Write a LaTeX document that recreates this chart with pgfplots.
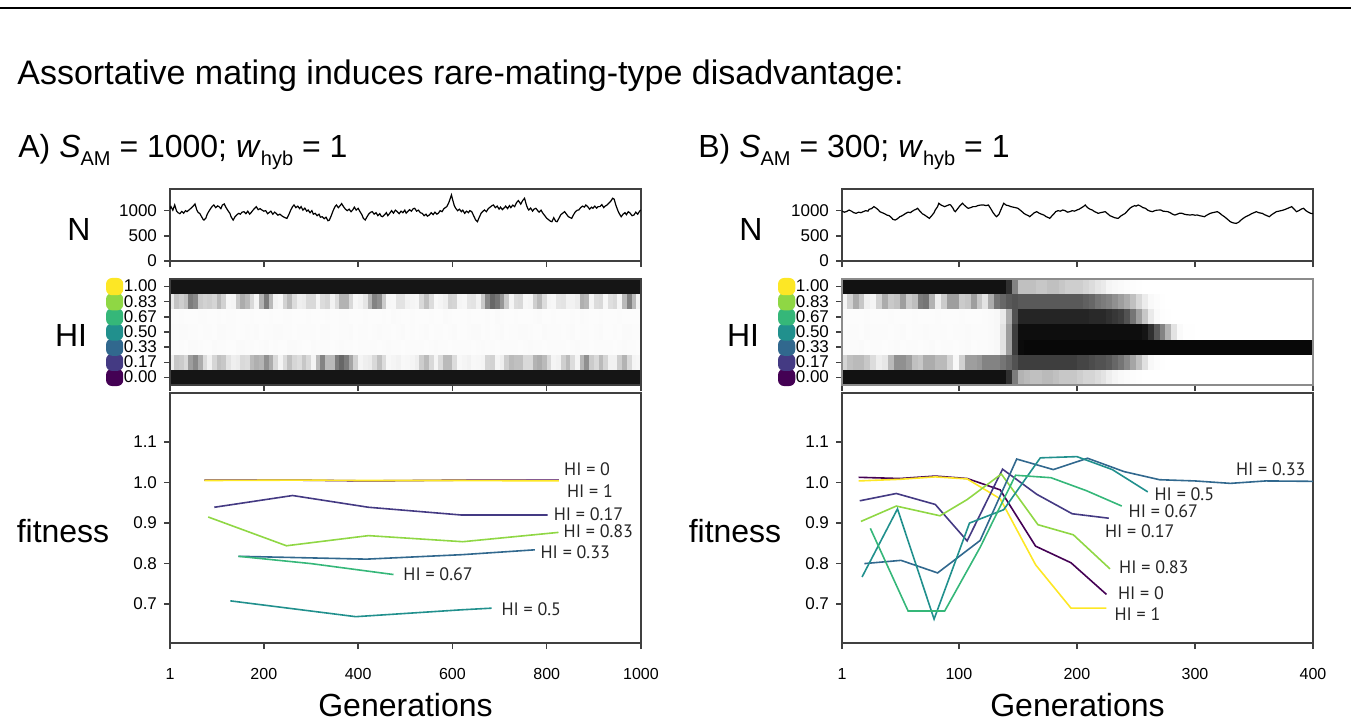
\documentclass[border=0pt]{standalone}
\usepackage{pgfplots}
\pgfplotsset{compat=1.18}
\usepackage{pgfplotstable}
\usepackage{fontspec}
\setmainfont{Liberation Sans}
\newfontfamily\lab{PT Sans}

\definecolor{v0}{HTML}{440154}
\definecolor{v1}{HTML}{443A83}
\definecolor{v2}{HTML}{31688E}
\definecolor{v3}{HTML}{21908D}
\definecolor{v4}{HTML}{35B779}
\definecolor{v5}{HTML}{8FD744}
\definecolor{v6}{HTML}{FDE725}

\newcommand\sw[2]{\tikz[baseline=-0.6ex]\fill[#1,rounded corners=3pt](0,-4.3pt) rectangle (8.6pt,4.3pt);\hspace{0.3pt}#2}
\newcommand\sub[1]{\raisebox{-4pt}{\fontsize{10}{12}\selectfont #1}}

% population size, panel A
\pgfplotstableread{
g N
1 1040
3 1080
7 1010
11 1113
15 990
18 960
22 940
26 985
30 950
34 1000
37 980
42 1020
47 1060
51 1100
54 1133
58 1010
61 960
64 947
68 880
71 830
73 813
77 850
80 930
83 980
87 1040
91 1090
94 1113
98 1060
102 1095
105 1080
109 1040
112 1110
116 1133
120 1060
124 1000
128 947
131 870
135 813
139 880
143 920
147 947
150 930
154 970
158 980
162 940
166 990
170 930
173 960
177 1010
181 1050
184 1080
188 1020
192 1040
196 1013
200 990
204 1000
208 940
211 960
215 990
219 930
223 970
226 947
230 910
234 930
238 900
241 880
245 860
249 847
253 920
257 1010
261 1080
264 1113
268 1060
272 1090
276 1040
279 1080
283 1010
287 1050
291 990
294 1013
298 960
302 1000
305 930
309 947
313 900
317 930
320 870
324 880
328 840
332 870
336 800
339 813
343 900
347 1000
351 1080
354 1113
358 1060
362 1100
365 1140
369 1080
373 1030
377 1000
381 1030
385 980
389 1020
392 1070
396 1010
400 1047
404 980
408 920
411 850
415 813
419 880
423 940
427 970
430 980
434 930
438 960
442 900
446 940
449 890
452 880
456 920
460 960
463 900
467 947
471 1000
475 950
479 1010
483 980
487 940
491 990
495 960
499 1010
502 950
505 980
509 1020
513 990
517 1040
520 1047
524 990
528 1010
532 960
536 947
540 900
544 930
547 890
551 913
555 960
559 920
563 970
567 930
570 947
574 1000
578 980
582 1040
585 1060
588 1080
592 1150
595 1230
598 1313
601 1200
604 1100
607 1047
611 1000
615 1030
619 980
622 1010
626 947
630 990
634 960
637 1000
641 980
645 900
649 820
653 780
657 870
661 950
665 990
668 1013
672 980
676 1040
680 1070
684 1100
687 1113
691 1060
695 1090
699 1030
702 1070
706 1020
709 1047
713 1090
717 1040
721 1100
724 1060
728 1110
732 1080
736 1160
740 1200
745 1130
749 1200
753 1247
757 1110
760 1040
762 1013
766 1050
770 990
773 1030
777 1047
781 1000
784 970
788 1010
792 947
796 900
800 850
804 820
808 790
811 780
815 860
819 790
822 780
826 850
830 920
834 950
838 980
842 930
846 880
850 860
853 847
857 920
861 980
865 1010
868 1013
872 1060
876 1090
880 1070
883 1113
887 1080
891 1030
895 1070
898 1047
902 1090
906 1050
909 1080
913 1080
917 1120
921 1060
924 1090
928 1113
932 1150
936 1190
940 1247
943 1230
947 1100
951 1000
954 940
958 880
962 930
966 960
969 920
973 980
977 950
981 900
985 913
989 970
993 930
997 990
1000 1013
}\NA

% population size, panel B
\pgfplotstableread{
g N
1 990
3 970
5 985
7 1013
9 990
11 960
13 947
15 970
17 960
19 980
21 1000
23 990
24 1027
26 1040
28 1080
30 1050
32 1010
33 980
35 960
37 940
39 913
41 900
43 860
44 830
46 813
48 840
50 880
52 900
54 930
55 947
57 970
59 960
60 980
62 1010
64 1030
65 1047
67 990
69 940
71 913
73 880
75 847
77 900
79 960
80 1013
82 1080
83 1147
85 1110
87 1090
88 1080
90 1100
92 1120
93 1113
95 1050
96 1000
97 980
99 1040
101 1100
103 1147
105 1100
107 1060
108 1047
110 1060
112 1080
114 1080
116 1100
118 1110
121 1113
123 1100
125 1113
127 1040
129 960
131 900
132 880
134 930
136 1040
138 1147
140 1110
142 1100
144 1080
146 1070
148 1060
150 1047
152 1010
154 970
155 947
157 920
159 900
160 880
162 920
164 960
166 980
168 950
170 930
172 913
174 880
176 860
177 847
179 900
181 950
182 980
184 1000
186 990
188 1013
190 1000
192 970
194 980
196 1000
198 990
200 1013
202 1030
204 1060
206 1090
207 1113
209 1060
211 1030
213 1013
215 980
217 960
218 947
220 960
222 970
224 980
226 940
228 900
230 880
232 860
234 850
235 847
237 890
239 920
241 947
243 1000
245 1050
247 1080
249 1100
250 1090
252 1113
254 1090
256 1060
258 1047
260 1010
262 990
264 980
266 1000
268 1010
271 1013
273 990
275 985
277 980
279 960
281 930
283 913
285 930
287 950
289 947
291 930
293 920
296 913
298 920
300 910
302 913
304 900
306 890
308 880
310 910
313 947
315 960
317 970
319 980
321 950
323 910
325 880
327 840
329 800
330 780
332 760
334 750
335 747
337 770
339 813
341 850
343 880
346 913
348 940
350 960
352 980
354 960
356 950
357 947
359 920
361 900
363 880
365 920
367 950
369 980
371 990
373 1000
375 1013
377 1030
379 1050
382 1080
384 1030
386 980
388 1000
390 1030
392 1047
394 1000
396 970
398 947
400 940
}\NB

% HI class frequency (0 white .. 1 black), panel A
\pgfplotstableread{
g r0 r1 r2 r3 r4 r5 r6
1 .95 .10 .05 .04 .03 .12 .95
10 .9 .15 .03 .06 .05 .18 .9
20 .95 .40 .06 .05 .04 .40 .95
30 .9 .12 .04 .08 .06 .10 .9
40 .95 .30 .05 .04 .03 .50 .95
50 .9 .55 .08 .06 .05 .60 .9
60 .95 .45 .04 .05 .04 .40 .95
70 .9 .30 .06 .03 .06 .12 .9
80 .95 .10 .03 .07 .04 .35 .95
90 .9 .14 .05 .04 .03 .15 .9
100 .95 .30 .07 .05 .06 .30 .95
110 .9 .30 .04 .08 .05 .35 .9
120 .95 .25 .06 .04 .03 .12 .95
130 .9 .10 .03 .06 .07 .08 .9
140 .95 .16 .05 .05 .04 .14 .95
150 .9 .12 .08 .03 .05 .40 .9
160 .95 .30 .04 .06 .03 .35 .95
170 .9 .10 .06 .04 .06 .30 .9
180 .95 .55 .05 .07 .04 .12 .95
190 .9 .18 .03 .05 .05 .10 .9
200 .95 .50 .07 .04 .03 .60 .95
210 .9 .45 .05 .06 .06 .50 .9
220 .95 .30 .04 .05 .04 .15 .95
230 .9 .12 .06 .08 .05 .08 .9
240 .95 .10 .03 .04 .03 .12 .95
250 .9 .30 .05 .06 .07 .35 .9
260 .95 .30 .08 .05 .04 .30 .95
270 .9 .14 .04 .03 .05 .10 .9
280 .95 .25 .06 .07 .03 .16 .95
290 .9 .30 .03 .04 .06 .12 .9
300 .95 .12 .05 .06 .04 .30 .95
310 .9 .10 .07 .05 .05 .12 .9
320 .95 .55 .04 .04 .03 .10 .95
330 .9 .50 .06 .08 .06 .30 .9
340 .95 .15 .05 .05 .04 .14 .95
350 .9 .50 .03 .03 .05 .10 .9
360 .95 .60 .08 .06 .03 .30 .95
370 .9 .65 .04 .04 .07 .40 .9
380 .95 .45 .06 .07 .04 .30 .95
390 .9 .35 .05 .05 .05 .12 .9
400 .95 .12 .03 .04 .03 .08 .95
410 .9 .10 .07 .06 .06 .15 .9
420 .95 .16 .04 .05 .04 .18 .95
430 .9 .12 .06 .03 .05 .50 .9
440 .95 .30 .05 .08 .03 .55 .95
450 .9 .30 .03 .04 .06 .40 .9
460 .95 .10 .08 .06 .04 .12 .95
470 .9 .08 .04 .05 .05 .08 .9
480 .95 .14 .06 .04 .07 .10 .95
490 .9 .10 .05 .07 .03 .25 .9
500 .95 .08 .03 .05 .05 .10 .95
510 .9 .12 .07 .04 .04 .14 .9
520 .95 .10 .04 .06 .06 .08 .95
530 .9 .16 .06 .03 .03 .12 .9
540 .95 .35 .05 .08 .05 .30 .95
550 .9 .30 .03 .05 .04 .30 .9
560 .95 .12 .08 .04 .06 .10 .95
570 .9 .10 .04 .06 .03 .08 .9
580 .95 .30 .06 .05 .05 .14 .95
590 .9 .35 .05 .04 .07 .12 .9
600 .95 .30 .03 .07 .04 .35 .95
610 .9 .10 .07 .05 .05 .10 .9
620 .95 .08 .04 .03 .03 .12 .95
630 .9 .14 .06 .06 .06 .08 .9
640 .95 .10 .05 .04 .04 .25 .95
650 .9 .08 .03 .08 .05 .10 .9
660 .95 .12 .08 .05 .03 .14 .95
670 .9 .10 .04 .04 .06 .40 .9
680 .95 .35 .06 .06 .04 .60 .95
690 .9 .12 .05 .03 .05 .65 .9
700 .95 .10 .03 .07 .07 .50 .95
710 .9 .16 .07 .05 .03 .40 .9
720 .95 .35 .04 .04 .05 .12 .95
730 .9 .30 .06 .06 .04 .10 .9
740 .95 .30 .05 .05 .06 .30 .95
750 .9 .30 .03 .08 .03 .12 .9
760 .95 .12 .08 .04 .05 .08 .95
770 .9 .30 .04 .06 .04 .14 .9
780 .95 .40 .06 .03 .07 .35 .95
790 .9 .35 .05 .05 .05 .30 .9
800 .95 .30 .03 .07 .03 .10 .95
810 .9 .12 .07 .04 .06 .12 .9
820 .95 .10 .04 .06 .04 .08 .95
830 .9 .14 .06 .05 .05 .25 .9
840 .95 .35 .05 .03 .03 .10 .95
850 .9 .30 .03 .08 .06 .14 .9
860 .95 .10 .08 .05 .04 .10 .95
870 .9 .12 .04 .04 .05 .18 .9
880 .95 .55 .06 .06 .07 .55 .95
890 .9 .40 .05 .05 .03 .12 .9
900 .95 .12 .03 .04 .05 .10 .95
910 .9 .30 .07 .07 .04 .30 .9
920 .95 .35 .04 .05 .06 .12 .95
930 .9 .10 .06 .03 .03 .08 .9
940 .95 .14 .05 .06 .05 .30 .95
950 .9 .10 .03 .04 .04 .12 .9
960 .95 .40 .08 .05 .06 .10 .95
970 .9 .30 .04 .08 .03 .55 .9
980 .95 .12 .06 .04 .05 .50 .95
990 .9 .10 .05 .06 .04 .14 .9
1000 .95 .10 .03 .05 .05 .10 .95
}\HA

% HI class frequency, panel B
\pgfplotstableread{
g r0 r1 r2 r3 r4 r5 r6
1 .95 .15 .05 .04 .03 .10 .95
5 .92 .30 .06 .05 .04 .12 .92
10 .95 .30 .04 .06 .05 .35 .95
15 .92 .35 .07 .04 .03 .40 .92
20 .95 .30 .05 .05 .06 .15 .95
25 .92 .25 .04 .07 .04 .10 .92
30 .95 .15 .06 .04 .05 .12 .95
35 .92 .12 .05 .06 .03 .35 .92
40 .95 .20 .03 .05 .06 .40 .95
45 .92 .45 .07 .04 .04 .14 .92
50 .95 .50 .05 .07 .05 .45 .95
55 .92 .45 .04 .05 .03 .40 .92
60 .95 .40 .06 .04 .06 .12 .95
65 .92 .20 .05 .06 .04 .50 .92
70 .95 .35 .03 .05 .05 .60 .95
75 .92 .40 .07 .07 .03 .55 .92
80 .95 .35 .05 .04 .06 .15 .95
85 .92 .30 .04 .06 .04 .12 .92
90 .95 .35 .06 .05 .05 .40 .95
95 .92 .10 .05 .04 .03 .45 .92
100 .95 .08 .03 .06 .06 .40 .95
105 .92 .40 .07 .05 .04 .12 .92
110 .95 .45 .05 .07 .05 .45 .95
115 .92 .40 .04 .04 .03 .40 .92
120 .95 .50 .06 .06 .06 .15 .95
125 .92 .55 .05 .05 .04 .20 .92
130 .95 .50 .08 .08 .08 .55 .95
135 .92 .55 .10 .10 .10 .60 .92
140 .95 .60 .25 .25 .20 .65 .95
145 .70 .65 .60 .60 .55 .70 .70
150 .40 .75 .95 .95 .85 .70 .35
155 .30 .80 .97 .95 .88 .65 .25
160 .35 .75 .97 .95 .85 .70 .35
165 .25 .80 .97 .95 .88 .65 .25
170 .35 .75 .97 .95 .85 .70 .30
175 .30 .80 .97 .95 .88 .65 .25
180 .35 .75 .97 .95 .85 .70 .35
185 .25 .80 .97 .95 .88 .65 .25
190 .30 .75 .97 .95 .85 .70 .30
195 .25 .80 .97 .95 .88 .65 .20
200 .30 .75 .97 .95 .85 .70 .30
205 .20 .75 .97 .95 .88 .65 .20
210 .25 .75 .97 .95 .85 .65 .25
215 .20 .70 .97 .95 .85 .60 .15
220 .20 .70 .97 .95 .85 .55 .18
225 .15 .70 .97 .95 .85 .55 .12
230 .12 .65 .97 .95 .80 .50 .10
235 .10 .60 .97 .95 .80 .45 .08
240 .06 .55 .97 .95 .75 .40 .05
245 .04 .45 .97 .95 .65 .35 .03
250 .02 .35 .97 .95 .50 .25 .02
255 .01 .25 .97 .95 .35 .18 .01
260 0 .12 .97 .90 .20 .10 0
265 0 .05 .97 .75 .10 .05 0
270 0 .02 .97 .60 .04 .02 0
275 0 0 .97 .45 .02 0 0
280 0 0 .97 .25 0 0 0
285 0 0 .97 .10 0 0 0
290 0 0 .97 .03 0 0 0
300 0 0 .97 0 0 0 0
320 0 0 .97 0 0 0 0
340 0 0 .97 0 0 0 0
360 0 0 .97 0 0 0 0
380 0 0 .97 0 0 0 0
400 0 0 .97 0 0 0 0
}\HB

\tikzset{hl/.style={anchor=west, inner sep=0.3pt, text=black!85, font=\lab\fontsize{9}{10}\selectfont}}

\pgfplotsset{
  base/.style={
    scale only axis, width=235.5pt,
    tick align=outside, tick pos=left,
    axis line style={black!75, line width=0.7pt},
    every tick/.style={black!75, line width=0.7pt},
    major tick length=3pt,
    tick label style={font=\fontsize{8.5}{10}\selectfont},
    /pgf/number format/assume math mode=true,
    /pgf/number format/set thousands separator={},
  },
  Nax/.style={base, height=36pt, ymin=0, ymax=1430, ytick={0,500,1000}, xticklabels={}},
  HIax/.style={base, height=53pt, ymin=-0.5, ymax=6.5, ytick={0,...,6}, xticklabels={}, axis on top,
    colormap={bw}{color(0cm)=(white); color(1cm)=(black!3); color(10cm)=(black)},
    point meta min=0, point meta max=1,
    yticklabels={\sw{v0}{0.00},\sw{v1}{0.17},\sw{v2}{0.33},\sw{v3}{0.50},\sw{v4}{0.67},\sw{v5}{0.83},\sw{v6}{1.00}}},
  hm/.style={mesh, line width=7.571pt, line cap=butt, point meta=explicit, forget plot},
  Fax/.style={base, height=125pt, ymin=0.604, ymax=1.221, ytick={0.7,0.8,0.9,1.0,1.1},
    yticklabel style={/pgf/number format/.cd, fixed, fixed zerofill, precision=1},
    xticklabel style={font=\fontsize{8}{10}\selectfont, yshift=-6pt}},
  fl/.style={no marks, line width=0.8pt},
}

\begin{document}
\begin{tikzpicture}
\path[use as bounding box] (0,0) rectangle (675.5pt,-362.5pt);
\draw[line width=1pt] (0,-4pt) -- (675.5pt,-4pt);

\node[anchor=base west, font=\fontsize{17}{20}\selectfont, inner sep=0] at (8.5pt,-42pt) {Assortative mating induces rare-mating-type disadvantage:};
\node[anchor=base west, font=\fontsize{16}{19}\selectfont, inner sep=0] at (9pt,-78.5pt) {A) \textit{S}\sub{AM} = 1000; \textit{w}\sub{hyb} = 1};
\node[anchor=base west, font=\fontsize{16}{19}\selectfont, inner sep=0] at (349pt,-78.5pt) {B) \textit{S}\sub{AM} = 300; \textit{w}\sub{hyb} = 1};

% ---------------- panel A ----------------
\begin{axis}[Nax, at={(85pt,-94.5pt)}, anchor=north west, xmin=1, xmax=1000, xtick={1,200,400,600,800,1000}]
  \addplot[no marks, black, line width=0.6pt] table[x=g, y=N] {\NA};
\end{axis}
\begin{axis}[HIax, at={(85pt,-139.5pt)}, anchor=north west, xmin=1, xmax=1000, xtick={1,200,400,600,800,1000}]
  \pgfplotsinvokeforeach{0,...,6}{\addplot[hm] table[x=g, y expr=#1, meta=r#1] {\HA};}
\end{axis}
\begin{axis}[Fax, at={(85pt,-196.5pt)}, anchor=north west, xmin=1, xmax=1000, xtick={1,200,400,600,800,1000}]
  \addplot[fl, v0] coordinates {(74,1.006) (270,1.006) (420,1.004) (620,1.006) (826,1.006)};
  \addplot[fl, v6] coordinates {(74,1.005) (270,1.006) (420,1.005) (620,1.005) (826,1.004)};
  \addplot[fl, v1] coordinates {(95,0.939) (261,0.968) (422,0.939) (618,0.920) (802,0.920)};
  \addplot[fl, v5] coordinates {(82,0.915) (248,0.844) (422,0.869) (622,0.854) (825,0.877)};
  \addplot[fl, v2] coordinates {(146,0.818) (418,0.811) (620,0.822) (775,0.834)};
  \addplot[fl, v4] coordinates {(146,0.818) (300,0.800) (475,0.773)};
  \addplot[fl, v3] coordinates {(129,0.708) (395,0.669) (620,0.686) (683,0.690)};
  \node[hl] at (axis cs:835,1.033) {HI = 0};
  \node[hl] at (axis cs:841,0.979) {HI = 1};
  \node[hl] at (axis cs:813,0.922) {HI = 0.17};
  \node[hl] at (axis cs:834,0.879) {HI = 0.83};
  \node[hl] at (axis cs:785,0.827) {HI = 0.33};
  \node[hl] at (axis cs:494,0.773) {HI = 0.67};
  \node[hl] at (axis cs:702,0.688) {HI = 0.5};
\end{axis}

% ---------------- panel B ----------------
\begin{axis}[Nax, at={(421pt,-94.5pt)}, anchor=north west, xmin=1, xmax=400, xtick={1,100,200,300,400}]
  \addplot[no marks, black, line width=0.6pt] table[x=g, y=N] {\NB};
\end{axis}
\begin{axis}[HIax, at={(421pt,-139.5pt)}, anchor=north west, xmin=1, xmax=400, xtick={1,100,200,300,400},
    axis line style={black!45, line width=0.7pt}]
  \pgfplotsinvokeforeach{0,...,6}{\addplot[hm] table[x=g, y expr=#1, meta=r#1] {\HB};}
\end{axis}
\begin{axis}[Fax, at={(421pt,-196.5pt)}, anchor=north west, xmin=1, xmax=400, xtick={1,100,200,300,400}]
  \addplot[fl, v0] coordinates {(15,1.013) (50,1.010) (80,1.016) (107,1.010) (135,0.982) (165,0.843) (195,0.802) (225,0.724)};
  \addplot[fl, v6] coordinates {(15,1.004) (50,1.008) (80,1.014) (107,1.009) (135,0.960) (165,0.797) (195,0.690) (225,0.690)};
  \addplot[fl, v1] coordinates {(16,0.955) (47,0.973) (80,0.946) (107,0.856) (137,1.033) (166,0.971) (196,0.923) (227,0.912)};
  \addplot[fl, v5] coordinates {(17,0.904) (47,0.942) (84,0.918) (107,0.958) (136,1.021) (167,0.896) (197,0.871) (228,0.787)};
  \addplot[fl, v2] coordinates {(20,0.800) (51,0.808) (82,0.777) (118,0.857) (149,1.058) (180,1.032) (209,1.060) (240,1.027) (270,1.007) (300,1.004) (330,0.998) (360,1.004) (400,1.003)};
  \addplot[fl, v3] coordinates {(18,0.767) (48,0.935) (79,0.663) (109,0.900) (138,0.933) (169,1.061) (200,1.064) (230,1.032) (260,0.977)};
  \addplot[fl, v4] coordinates {(25,0.887) (57,0.683) (88,0.683) (118,0.840) (148,1.018) (178,1.012) (208,0.980) (238,0.942)};
  \node[hl] at (axis cs:334,1.032) {HI = 0.33};
  \node[hl] at (axis cs:265,0.971) {HI = 0.5};
  \node[hl] at (axis cs:243,0.930) {HI = 0.67};
  \node[hl] at (axis cs:223,0.880) {HI = 0.17};
  \node[hl] at (axis cs:235,0.790) {HI = 0.83};
  \node[hl] at (axis cs:234,0.728) {HI = 0};
  \node[hl] at (axis cs:231,0.676) {HI = 1};
\end{axis}

% row labels
\foreach \dx in {0pt,336pt}{
  \node[font=\fontsize{16}{18}\selectfont] at ([xshift=\dx]39.5pt,-114.5pt) {N};
  \node[font=\fontsize{16}{18}\selectfont] at ([xshift=\dx]35.5pt,-167.5pt) {HI};
  \node[font=\fontsize{16}{18}\selectfont] at ([xshift=\dx]31.5pt,-265.5pt) {fitness};
}
\node[font=\fontsize{16}{18}\selectfont] at (202.75pt,-352.5pt) {Generations};
\node[font=\fontsize{16}{18}\selectfont] at (538.75pt,-352.5pt) {Generations};
\end{tikzpicture}
\end{document}
